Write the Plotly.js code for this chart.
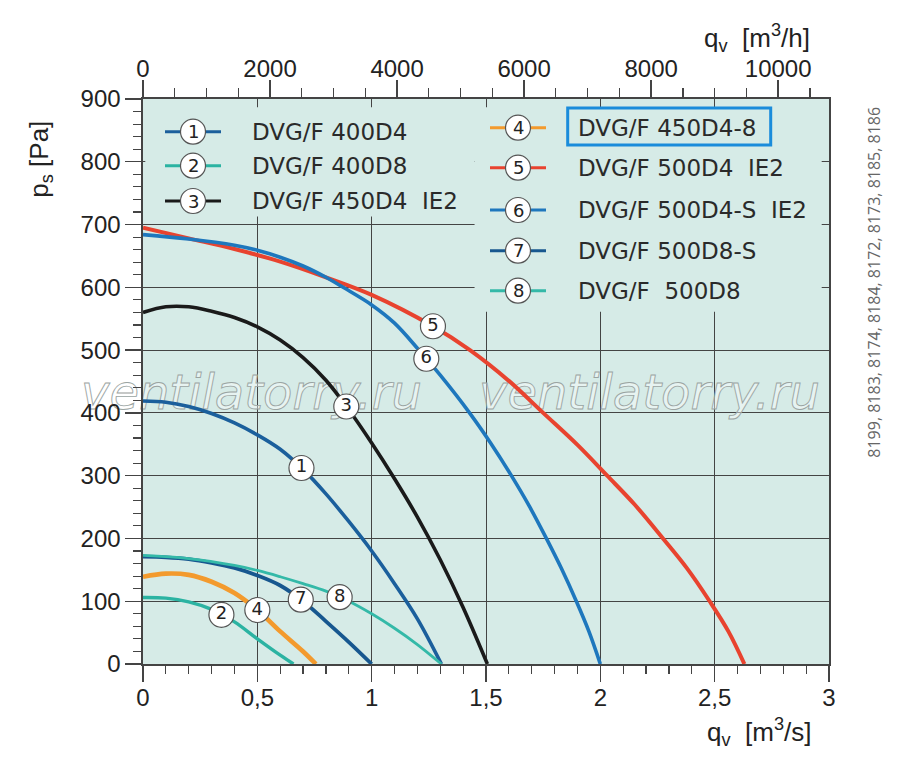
<!DOCTYPE html>
<html>
<head>
<meta charset="utf-8">
<script src="https://cdn.plot.ly/plotly-3.0.1.min.js"></script>
<style>
body{margin:0;background:#fff}
#chart{width:900px;height:781px}
</style>
</head>
<body>
<div id="chart"></div>
<script>
// Kennlinien: qv [m3/s] -> ps [Pa]
var q1=[0,0.1,0.2,0.3,0.4,0.5,0.6,0.7,0.8,0.9,1.0,1.1,1.2,1.305];
var p1=[419,417,410,399,384,365,342,310,271,227,180,128,72,0];
var q2=[0,0.1,0.2,0.3,0.4,0.5,0.6,0.658];
var p2=[106,105,99,87,67,40,14,0];
var q3=[0,0.1,0.2,0.3,0.4,0.5,0.6,0.7,0.8,0.9,1.0,1.1,1.2,1.3,1.4,1.506];
var p3=[560,569,569,562,552,537,516,488,452,405,352,295,234,166,90,0];
var q4=[0,0.1,0.2,0.3,0.4,0.5,0.6,0.7,0.756];
var p4=[139,144,142,131,113,86,52,20,0];
var q5=[0,0.2,0.4,0.6,0.8,1.0,1.268,1.43,1.6,1.75,1.9,2.03,2.15,2.274,2.38,2.478,2.56,2.63];
var p5=[695,678,661,641,616,588,538,500,451,400,349,300,254,200,152,100,52,0];
var q6=[0,0.2,0.4,0.5,0.6,0.7,0.8,0.875,1.0,1.1,1.207,1.3,1.428,1.52,1.611,1.69,1.764,1.83,1.895,1.95,2.0];
var p6=[684,677,667,659,648,634,616,600,572,543,500,460,400,352,300,251,200,152,100,52,0];
var q7=[0,0.1,0.2,0.3,0.4,0.5,0.6,0.7,0.8,0.9,1.0];
var p7=[171,170,167,161,153,141,125,100,68,35,0];
var q8=[0,0.2,0.4,0.5,0.6,0.7,0.8,0.9,1.0,1.1,1.2,1.305];
var p8=[173,168,157,149,139,128,116,100,80,57,31,0];

var curveNames=['DVG/F 400D4','DVG/F 400D8','DVG/F 450D4  IE2','DVG/F 450D4-8',
  'DVG/F 500D4  IE2','DVG/F 500D4-S  IE2','DVG/F 500D8-S','DVG/F  500D8'];
var curveNr=['1','2','3','4','5','6','7','8'];

var qTicks=[0,0.5,1,1.5,2,2.5,3];
var qTickText=['0','0,5','1','1,5','2','2,5','3'];
var hTicks=[0,2000,4000,6000,8000,10000];
var hTickText=['0','2000','4000','6000','8000','10000'];
var pTicks=[0,100,200,300,400,500,600,700,800,900];

var Q=[q1,q2,q3,q4,q5,q6,q7,q8];
var P=[p1,p2,p3,p4,p5,p6,p7,p8];
var colors=['#1b5f9c','#2bb3a2','#1a1a1a','#f39a2d','#e8432f','#1e77bd','#17578f','#34b9a8'];
var widths=[3.6,3.4,3.6,4.6,4,3.6,3.8,2.8];
// wo die Nummern auf der Kurve sitzen (qv)
var labelAt=[0.693,0.343,0.889,0.5,1.268,1.239,0.69,0.86];

var BG='#d6ebe7';
var FONT='"Liberation Sans", Arial, sans-serif';
var LFONT='"DejaVu Sans", sans-serif';
var WM='ventilatorry.ru';

function interp(xs,ys,x){
	for(var i=0;i<xs.length-1;i++){
		if(x>=xs[i]&&x<=xs[i+1]){
			var t=(x-xs[i])/(xs[i+1]-xs[i]);
			return ys[i]+t*(ys[i+1]-ys[i]);
		}
	}
	return ys[ys.length-1];
}
// pixel -> paper (plot area 143..829 x 99..664)
function PX(px){return (px-143.3)/686;}
function PY(py){return (664-py)/565;}
function nb(s){return s.replace(/ /g,'\u00a0');}

var data=[];
for(var i=0;i<Q.length;i++){
	data.push({
		x:Q[i],y:P[i],type:'scatter',mode:'lines',
		line:{color:colors[i],width:widths[i],shape:'spline',smoothing:1},
		hoverinfo:'skip',showlegend:false
	});
}
// gleiche Kurve in m3/h fuer die obere Achse
data.push({
	x:q5.map(function(q){return q*3600;}),y:p5,xaxis:'x2',yaxis:'y',
	mode:'lines',line:{width:0},opacity:0,hoverinfo:'skip',showlegend:false
});
// Nummern auf den Kurven
var lx=[],ly=[];
for(var i=0;i<Q.length;i++){
	lx.push(labelAt[i]);
	ly.push(interp(Q[i],P[i],labelAt[i]));
}
data.push({
	x:lx,y:ly,mode:'markers+text',text:curveNr,textposition:'middle center',
	marker:{size:25,color:'#ffffff',line:{color:'#555',width:1.2}},
	textfont:{family:LFONT,size:18,color:'#222'},
	hoverinfo:'skip',showlegend:false
});

var shapes=[
	// Legendenflaechen decken Gitter ab
	{type:'rect',layer:'between',xref:'x',yref:'y',x0:0.01,x1:1.45,y0:713,y1:887,fillcolor:BG,line:{width:0}},
	{type:'rect',layer:'between',xref:'x',yref:'y',x0:1.45,x1:2.968,y0:561,y1:887,fillcolor:BG,line:{width:0}}
];
var annotations=[];
var rows=[[193.3,131.7],[193.3,165.7],[193.3,201],[518.3,127.7],[518.3,167.7],[518.3,210],[518.3,250.7],[518.3,290.7]];
for(var i=0;i<rows.length;i++){
	var cx=rows[i][0],cy=rows[i][1];
	var tx=(i<3)?250.7:576.7;
	shapes.push({type:'line',xref:'paper',yref:'paper',x0:PX(cx-28),x1:PX(cx+28),y0:PY(cy),y1:PY(cy),
		line:{color:colors[i],width:3}});
	shapes.push({type:'circle',xref:'paper',yref:'paper',xsizemode:'pixel',ysizemode:'pixel',
		xanchor:PX(cx),yanchor:PY(cy),x0:-12.5,x1:12.5,y0:-12.5,y1:12.5,
		fillcolor:'#fff',line:{color:'#555',width:1.2}});
	annotations.push({xref:'paper',yref:'paper',x:PX(cx),y:PY(cy),text:curveNr[i],showarrow:false,
		xanchor:'center',yanchor:'middle',font:{family:LFONT,size:18,color:'#222'}});
	annotations.push({xref:'paper',yref:'paper',x:PX(tx),y:PY(cy),text:nb(curveNames[i]),showarrow:false,
		xanchor:'left',yanchor:'middle',font:{family:LFONT,size:23,color:'#2a2a2a'}});
}
// Rahmen um 450D4-8
shapes.push({type:'rect',xref:'paper',yref:'paper',x0:PX(568),x1:PX(771),y0:PY(145),y1:PY(108),
	line:{color:'#1a8cdb',width:3},fillcolor:'rgba(0,0,0,0)'});

// Wasserzeichen
[252,650].forEach(function(px){
	annotations.push({xref:'paper',yref:'paper',x:PX(px),y:PY(392),text:WM,showarrow:false,
		xanchor:'center',yanchor:'middle',
		font:{family:'"DejaVu Sans", sans-serif',size:48,color:'rgba(255,255,255,0.45)',style:'italic',weight:300}});
});
// Achsentitel
function title(txt,px,py,ang,size,fam,col){
	annotations.push({xref:'paper',yref:'paper',x:PX(px),y:PY(py),text:txt,textangle:ang,
		xanchor:'center',yanchor:'middle',showarrow:false,font:{family:fam,size:size,color:col}});
}
title(nb('p<sub>s</sub> [Pa]'),40,159,-90,26,FONT,'#222');
title(nb('q<sub>v</sub>  [m<sup>3</sup>/s]'),759,732,0,26,FONT,'#222');
title(nb('q<sub>v</sub>  [m<sup>3</sup>/h]'),757,38,0,26,FONT,'#222');
title('8199, 8183, 8174, 8184, 8172, 8173, 8185, 8186',874,282,-90,16,'"Open Sans", sans-serif','#666');

var layout={
	width:900,height:781,
	margin:{l:143,r:71,t:99,b:117},
	paper_bgcolor:'#ffffff',plot_bgcolor:BG,
	showlegend:false,
	xaxis:{
		range:[0,3],tickmode:'array',tickvals:qTicks,ticktext:qTickText,
		showgrid:true,gridcolor:'#444',gridwidth:1,zeroline:false,
		showline:true,linecolor:'#444',linewidth:1.6,mirror:true,
		ticks:'outside',ticklen:16,tickwidth:1.4,tickcolor:'#444',ticklabelstandoff:-4,
		minor:{dtick:0.1,ticks:'outside',ticklen:8,tickwidth:1.2,tickcolor:'#444',showgrid:false},
		tickfont:{family:FONT,size:24,color:'#222'}
	},
	xaxis2:{
		range:[0,10800],overlaying:'x',side:'top',anchor:'y',
		tickmode:'array',tickvals:hTicks,ticktext:hTickText,
		showgrid:false,zeroline:false,showline:true,linecolor:'#444',linewidth:1.6,
		ticks:'outside',ticklen:17,tickwidth:1.4,tickcolor:'#444',ticklabelstandoff:-6,
		minor:{dtick:500,ticks:'outside',ticklen:9,tickwidth:1.2,tickcolor:'#444',showgrid:false},
		tickfont:{family:FONT,size:24,color:'#222'}
	},
	yaxis:{
		range:[0,900],tickmode:'array',tickvals:pTicks,
		showgrid:true,gridcolor:'#444',gridwidth:1,zeroline:false,
		showline:true,linecolor:'#444',linewidth:1.6,mirror:true,
		ticks:'outside',ticklen:16,tickwidth:1.4,tickcolor:'#444',
		minor:{dtick:20,ticks:'outside',ticklen:8,tickwidth:1.2,tickcolor:'#444',showgrid:false},
		tickfont:{family:FONT,size:24,color:'#222'}
	},
	shapes:shapes,
	annotations:annotations
};

Plotly.newPlot('chart',data,layout,{staticPlot:true}).then(function(gd){
	// Wasserzeichen als Umriss und unter die Kurven legen
	var sl=gd.querySelector('.scatterlayer');
	var anc=sl;
	while(anc&&anc.parentNode&&!(anc.parentNode.classList&&anc.parentNode.classList.contains('subplot'))){
		anc=anc.parentNode;
	}
	gd.querySelectorAll('.annotation').forEach(function(a){
		var t=a.querySelector('.annotation-text');
		if(t&&t.textContent===WM){
			t.style.stroke='#9aa4a2';
			t.style.strokeWidth='0.9px';
			if(anc&&anc.parentNode&&anc.parentNode.classList.contains('subplot')){
				anc.parentNode.insertBefore(a,anc);
			}
		}
	});
});
</script>
</body>
</html>
